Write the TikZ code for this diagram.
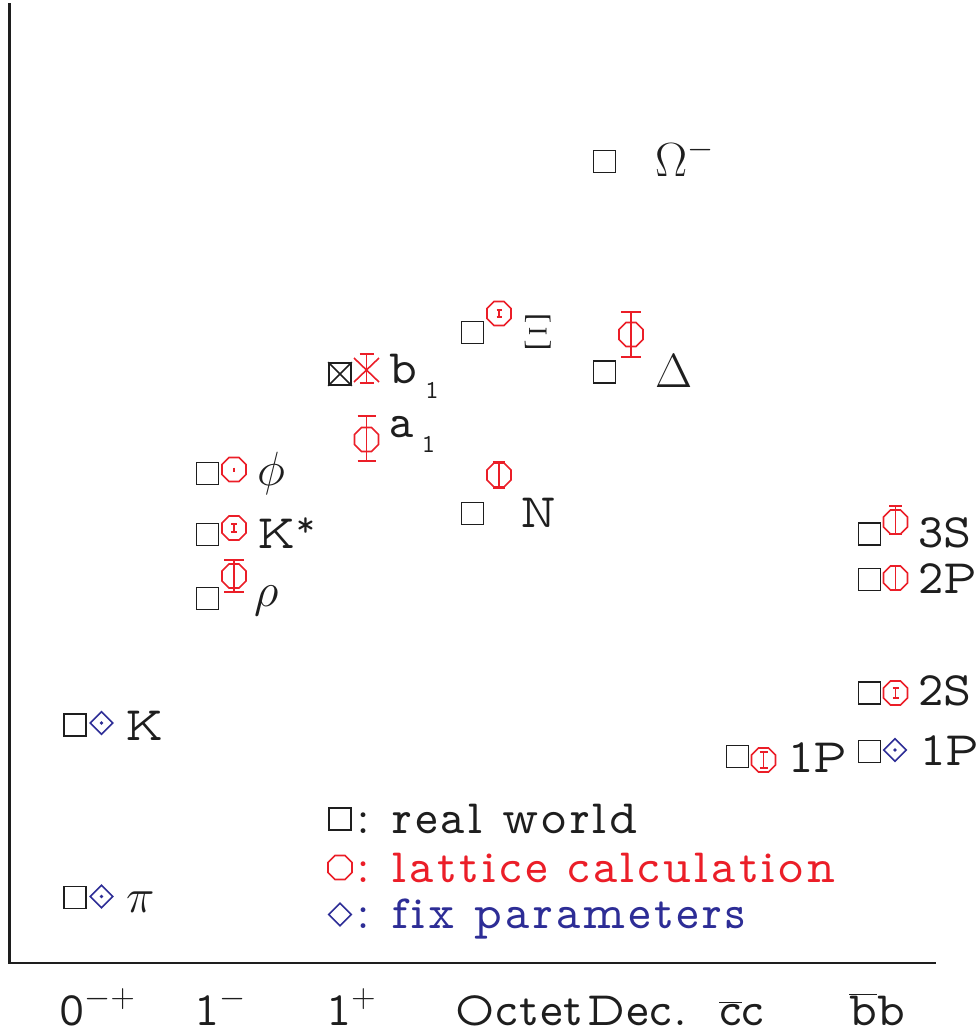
\RequirePackage{fix-cm}
\documentclass[tikz,border=0pt]{standalone}
\usetikzlibrary{shapes.geometric}
\definecolor{mred}{RGB}{235,30,40}
\definecolor{mblue}{RGB}{45,45,150}
\definecolor{mblack}{RGB}{30,30,30}
\newcommand\errbar[4]{\draw[ebar] (#1,#2) -- (#1,#3) (#1-#4,#2) -- (#1+#4,#2) (#1-#4,#3) -- (#1+#4,#3);}
\newcommand\vtt{\fontfamily{lmvtt}\fontsize{48}{52}\selectfont}
\newcommand\sbs[1]{\raisebox{-15pt}{\fontsize{26}{28}\selectfont #1}}
\newdimen\trackamt
\def\spaced#1{\spacedi#1\relax}
\def\spacedi#1{\ifx\relax#1\else#1\kern\trackamt\expandafter\spacedi\fi}
\begin{document}
\begin{tikzpicture}[x=1pt,y=-1pt,
  font=\vtt,
  sqm/.style={draw=mblack, line width=1.6pt, rectangle, minimum size=22pt, inner sep=0pt},
  octm/.style={draw=mred, line width=1.6pt, regular polygon, regular polygon sides=8, minimum size=26pt, inner sep=0pt},
  diam/.style={draw=mblue, line width=1.6pt, diamond, minimum width=23pt, minimum height=23pt, inner sep=0pt},
  ebar/.style={draw=mred, line width=1.6pt},
  lab/.style={anchor=base west, inner sep=0pt, text=mblack},
  axl/.style={anchor=base west, inner sep=0pt, text=mblack}]
\path[use as bounding box] (0,0) rectangle (979,1034);
% axes
\coordinate (top) at (9.5,3);
\coordinate (orig) at (9.5,963);
\coordinate (xend) at (936,963);
\draw[mblack, line width=2.6pt] (top) -- (orig) -- (xend);
% pi
\node[sqm] (pisq) at (75,897.5) {};
\node[diam] (pidi) at (101.5,896.5) {};
\fill[mblue] (pidi.center) circle (1.8);
\node[lab] (pil) at (126,912) {$\pi$};
% K
\node[sqm] (ksq) at (75,725) {};
\node[diam] (kdi) at (101.5,723) {};
\fill[mblue] (kdi.center) circle (1.8);
\node[lab] (kl) at (125,740) {K};
% rho
\node[sqm] (rhosq) at (207.5,598.5) {};
\node[octm] (rhooc) at (234,576) {};
\errbar{234}{560}{592}{10}
\node[lab] (rhol) at (254,606) {$\rho$};
% K*
\node[sqm] (kssq) at (207.5,534.5) {};
\node[octm] (ksoc) at (234,528) {};
\errbar{234}{524}{532}{3}
\node[lab] (ksl) at (257,548) {K\kern1pt\raisebox{12pt}{\fontsize{36}{36}\selectfont *}};
% phi
\node[sqm] (phisq) at (207.5,473.5) {};
\node[octm] (phioc) at (234,469.5) {};
\draw[ebar] (234,467.5) -- (234,471.5);
\node[lab] (phil) at (257,485) {$\phi$};
% b1
\node[sqm] (b1sq) at (340,374) {};
\draw[mblack, line width=1.6pt] (b1sq.north west) -- (b1sq.south east) (b1sq.north east) -- (b1sq.south west);
\coordinate (b1x) at (366.5,370);
\draw[ebar] ([xshift=-12.5pt,yshift=12pt]b1x) -- ([xshift=12.5pt,yshift=-12pt]b1x)
            ([xshift=12.5pt,yshift=12pt]b1x) -- ([xshift=-12.5pt,yshift=-12pt]b1x);
\errbar{366.5}{354}{383}{7}
\node[lab] (b1l) at (389,383) {b\,\sbs{1}};
% a1
\node[octm] (a1oc) at (366.5,439.5) {};
\errbar{366.5}{416}{461}{9}
\node[lab] (a1l) at (389,437) {a\,\sbs{1}};
% Xi
\node[sqm] (xisq) at (472.5,332.5) {};
\node[octm] (xioc) at (499,313.5) {};
\errbar{499}{310}{317}{2.5}
\node[lab] (xil) at (523,348) {$\Xi$};
% N
\node[sqm] (nsq) at (472.5,513.5) {};
\node[octm] (noc) at (499,475) {};
\errbar{499}{462}{488}{6}
\node[lab] (nl) at (520,527) {N};
% Omega
\node[sqm] (omsq) at (604.5,161.5) {};
\node[lab] (oml) at (655,176) {$\Omega^-$};
% Delta
\node[sqm] (desq) at (604.5,372) {};
\node[octm] (deoc) at (631,334.5) {};
\errbar{631}{312}{357}{10}
\node[lab] (del) at (655,387) {$\Delta$};
% cc 1P
\node[sqm] (ccsq) at (737.5,756.5) {};
\node[octm] (ccoc) at (763.5,760) {};
\errbar{763.5}{752}{768}{4}
\node[lab] (ccl) at (788,772) {1P};
% bb 3S
\node[sqm] (b3sq) at (869.5,534) {};
\node[octm] (b3oc) at (895.5,522) {};
\errbar{895.5}{506}{534}{6.5}
\node[lab] (b3l) at (918,547) {3S};
% bb 2P
\node[sqm] (b2psq) at (869.5,579.5) {};
\node[octm] (b2poc) at (895.5,578) {};
\draw[ebar] (895.5,566) -- (895.5,590);
\node[lab] (b2pl) at (918,593) {2P};
% bb 2S
\node[sqm] (b2ssq) at (869.5,693) {};
\node[octm] (b2soc) at (895.5,693) {};
\errbar{895.5}{688}{698}{3}
\node[lab] (b2sl) at (918,705) {2S};
% bb 1P
\node[sqm] (b1psq) at (869.5,751.5) {};
\node[diam] (b1pdi) at (895,750) {};
\fill[mblue] (b1pdi.center) circle (1.8);
\node[lab] (b1pl) at (920,765) {1P};
% legend
\trackamt=3.1pt
\node[sqm] (lgsq) at (340,819) {};
\node[lab] (lgsqt) at (356,833) {: \spaced{real} \spaced{world}};
\node[octm] (lgoc) at (340,867.5) {};
\node[lab, text=mred] (lgoct) at (356,882) {: \spaced{lattice} \spaced{calculation}};
\node[diam] (lgdi) at (340,914.5) {};
\node[lab, text=mblue] (lgdit) at (356,928) {: \spaced{fix} \spaced{parameters}};
% axis labels
\node[axl] (x1) at (59,1025) {0$^{-+}$};
\node[axl] (x2) at (194,1025) {1$^-$};
\node[axl] (x3) at (326,1025) {1$^+$};
\trackamt=1.2pt
\node[axl] (x4) at (455,1025) {\spaced{Octet}};
\node[axl] (x5) at (587,1025) {\spaced{Dec.}};
\node[axl] (x6) at (719,1025) {$\overline{\hbox{c}}$c};
\node[axl] (x7) at (849,1025) {$\overline{\hbox{b}}$b};
\end{tikzpicture}
\end{document}
